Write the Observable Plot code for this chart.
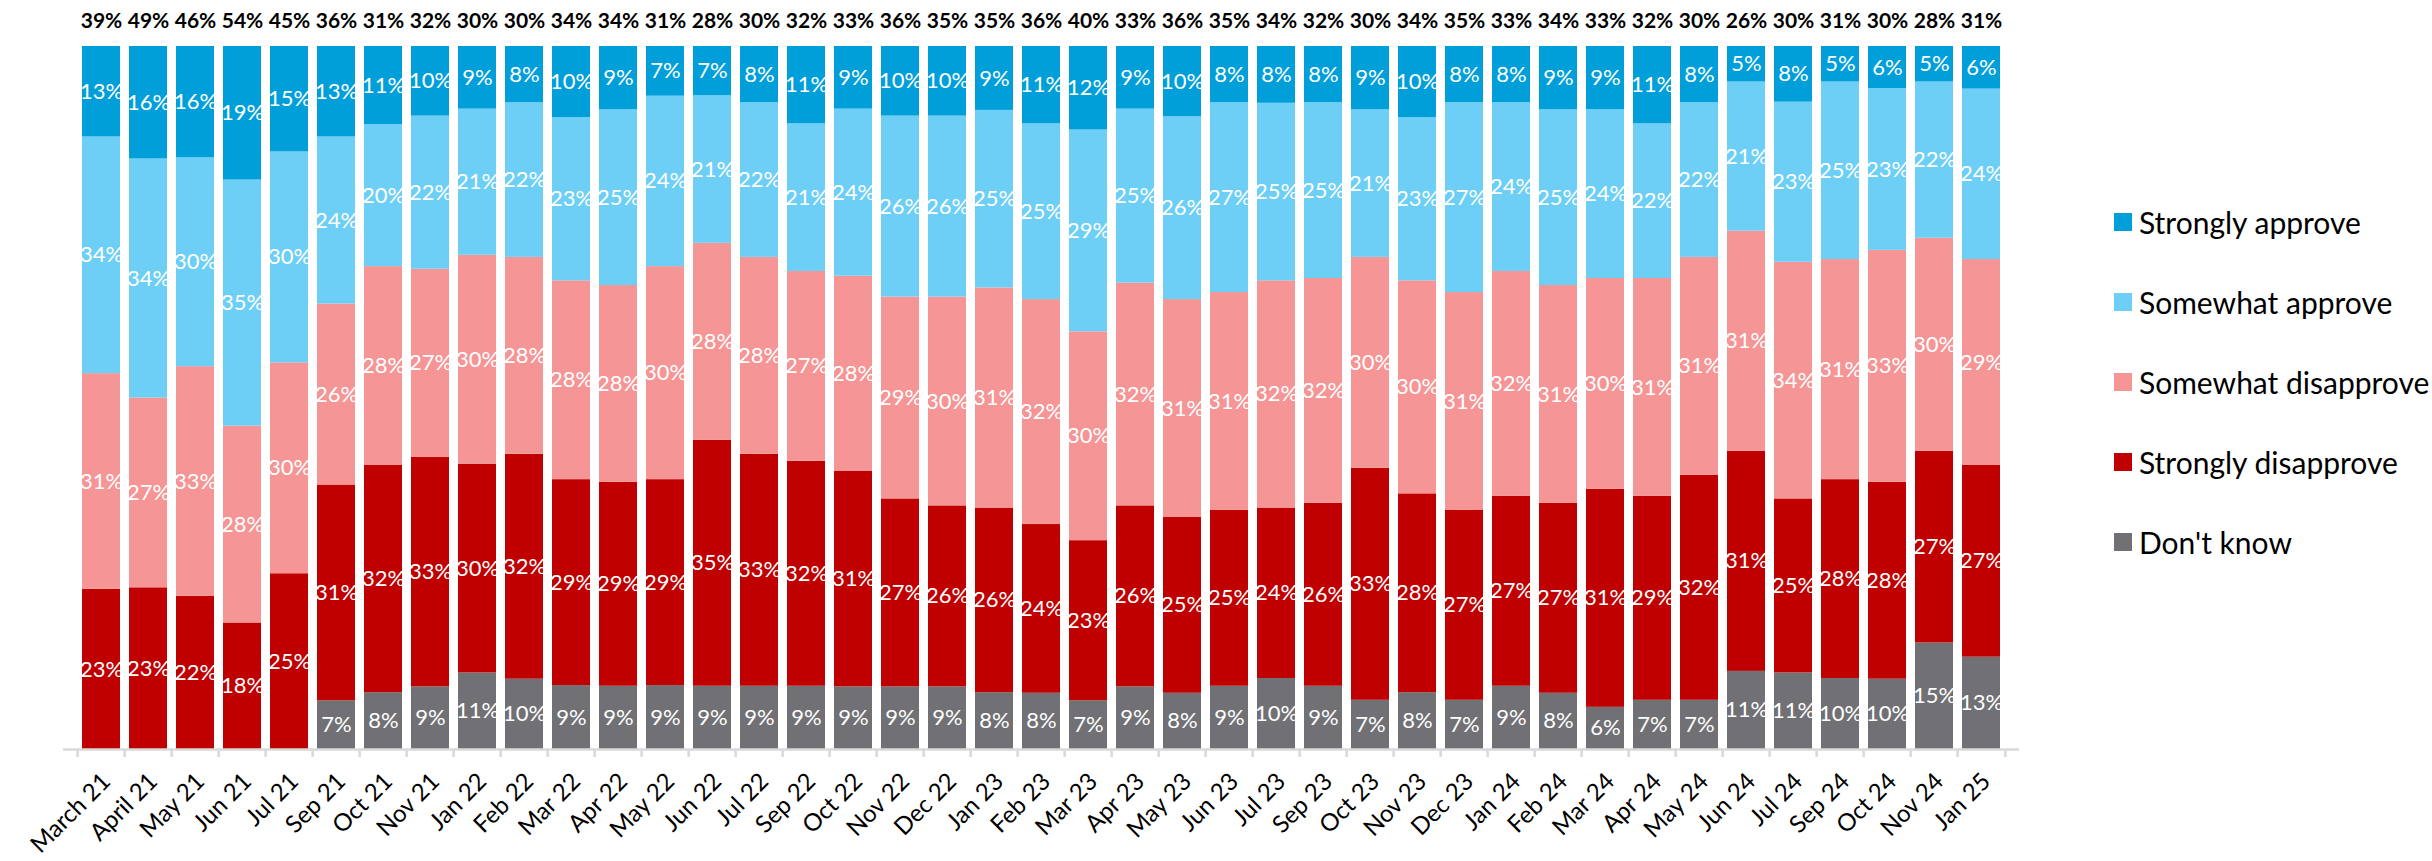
<!DOCTYPE html>
<html>
<head>
<meta charset="utf-8">
<script src="https://cdn.jsdelivr.net/npm/d3@7"></script>
<script src="https://cdn.jsdelivr.net/npm/@observablehq/plot@0.6"></script>
<style>
  html, body { margin: 0; padding: 0; background: #fff; }
  #wrap { position: relative; width: 2432px; height: 861px; font-family: Lato, "Noto Sans", sans-serif; }
  #legend { position: absolute; left: 2114px; top: 0; }
  .li { position: absolute; left: 0; white-space: nowrap; display: flex; align-items: center; font-size: 30px; color: #000; transform: translateY(-50%); }
  .sw { width: 18px; height: 18px; margin-right: 7px; flex: none; }
</style>
</head>
<body>
<div id="wrap"><div id="legend"></div></div>
<script>
const categories = ["March 21","April 21","May 21","Jun 21","Jul 21","Sep 21","Oct 21","Nov 21","Jan 22","Feb 22","Mar 22","Apr 22","May 22","Jun 22","Jul 22","Sep 22","Oct 22","Nov 22","Dec 22","Jan 23","Feb 23","Mar 23","Apr 23","May 23","Jun 23","Jul 23","Sep 23","Oct 23","Nov 23","Dec 23","Jan 24","Feb 24","Mar 24","Apr 24","May 24","Jun 24","Jul 24","Sep 24","Oct 24","Nov 24","Jan 25"];
const strongApprove   = [13,16,16,19,15,13,11,10,9,8,10,9,7,7,8,11,9,10,10,9,11,12,9,10,8,8,8,9,10,8,8,9,9,11,8,5,8,5,6,5,6];
const someApprove     = [34,34,30,35,30,24,20,22,21,22,23,25,24,21,22,21,24,26,26,25,25,29,25,26,27,25,25,21,23,27,24,25,24,22,22,21,23,25,23,22,24];
const someDisapprove  = [31,27,33,28,30,26,28,27,30,28,28,28,30,28,28,27,28,29,30,31,32,30,32,31,31,32,32,30,30,31,32,31,30,31,31,31,34,31,33,30,29];
const strongDisapprove= [23,23,22,18,25,31,32,33,30,32,29,29,29,35,33,32,31,27,26,26,24,23,26,25,25,24,26,33,28,27,27,27,31,29,32,31,25,28,28,27,27];
const dontKnow        = [null,null,null,null,null,7,8,9,11,10,9,9,9,9,9,9,9,9,9,8,8,7,9,8,9,10,9,7,8,7,9,8,6,7,7,11,11,10,10,15,13];
const approveTotal    = [39,49,46,54,45,36,31,32,30,30,34,34,31,28,30,32,33,36,35,35,36,40,33,36,35,34,32,30,34,35,33,34,33,32,30,26,30,31,30,28,31];

const seriesNames = ["Strongly approve","Somewhat approve","Somewhat disapprove","Strongly disapprove","Don't know"];
const seriesColors = ["#009FDA","#6DCFF6","#F59595","#C00000","#717175"];
const stackOrder = ["Don't know","Strongly disapprove","Somewhat disapprove","Somewhat approve","Strongly approve"];

const seriesValues = {
  "Strongly approve": strongApprove,
  "Somewhat approve": someApprove,
  "Somewhat disapprove": someDisapprove,
  "Strongly disapprove": strongDisapprove,
  "Don't know": dontKnow
};
const rows = [];
categories.forEach((c, i) => {
  for (const s of stackOrder) {
    const v = seriesValues[s][i];
    if (v != null) rows.push({cat: c, series: s, value: v});
  }
});

const W = 2432, H = 861, mL = 63, mR = 413, mT = 46, mB = 112;
const step = (W - mL - mR) / categories.length;

const chart = Plot.plot({
  width: W, height: H,
  marginLeft: mL, marginRight: mR, marginTop: mT, marginBottom: mB,
  style: {fontFamily: "Lato, 'Noto Sans', sans-serif", background: "#fff", color: "#000"},
  x: {domain: categories, paddingInner: 0.2, paddingOuter: 0.1, label: null},
  y: {domain: [0, 1], axis: null},
  color: {domain: seriesNames, range: seriesColors},
  marks: [
    Plot.barY(rows, Plot.stackY({x: "cat", y: "value", fill: "series", z: "series", order: stackOrder, offset: "normalize"})),
    Plot.text(rows, Plot.stackY({x: "cat", y: "value", z: "series", order: stackOrder, offset: "normalize",
      text: d => d.value + "%", fill: "#fff", fontSize: 22})),
    Plot.ruleY([0], {stroke: "#D9D9D9", strokeWidth: 2.5}),
    Plot.ruleX(categories, {x: d => d, y1: 0, y2: 0, dx: -step / 2, insetBottom: -8, stroke: "#D9D9D9", strokeWidth: 2.5}),
    Plot.ruleX([categories[categories.length - 1]], {x: d => d, y1: 0, y2: 0, dx: step / 2, insetBottom: -8, stroke: "#D9D9D9", strokeWidth: 2.5}),
    Plot.text(categories, {x: d => d, text: (d, i) => approveTotal[i] + "%", frameAnchor: "top", dy: -33,
      fontWeight: "bold", fontSize: 21, fill: "#000"}),
    Plot.axisX({tickRotate: -45, tickSize: 0, tickPadding: 28, dx: 5, fontSize: 24, fill: "#000", label: null})
  ]
});
document.getElementById("wrap").prepend(chart);

const legend = document.getElementById("legend");
const legendY = [222, 302, 382, 462, 542];
seriesNames.forEach((s, i) => {
  const item = document.createElement("div");
  item.className = "li";
  item.style.top = legendY[i] + "px";
  const sw = document.createElement("span");
  sw.className = "sw";
  sw.style.background = seriesColors[i];
  const t = document.createElement("span");
  t.textContent = s;
  item.append(sw, t);
  legend.append(item);
});
</script>
</body>
</html>
